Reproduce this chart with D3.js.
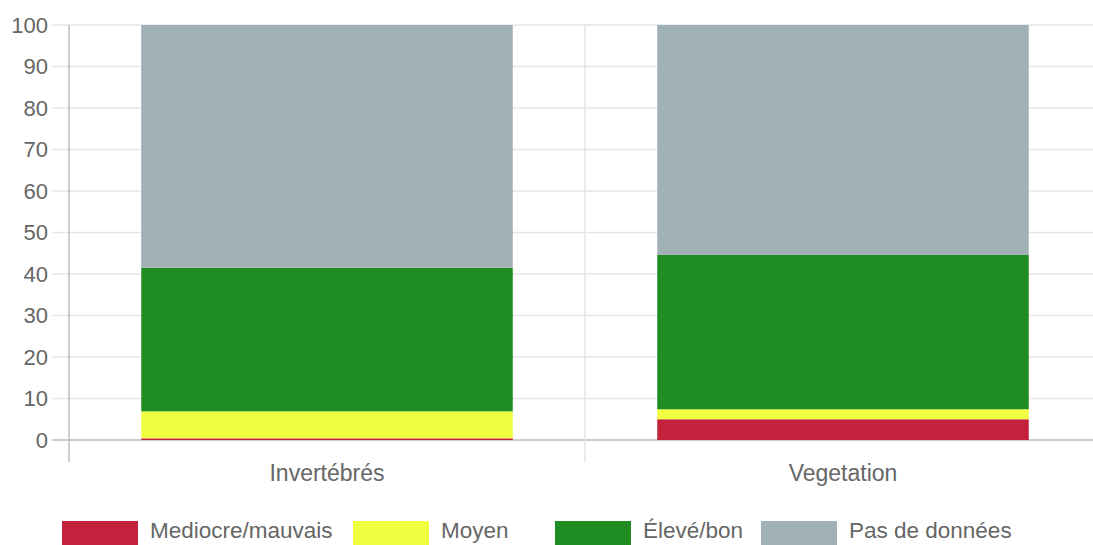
<!DOCTYPE html>
<html><head><meta charset="utf-8">
<script src="https://cdn.jsdelivr.net/npm/d3@7"></script>
<style>body{margin:0;background:#fff}svg{display:block}text{font-family:"Liberation Sans",Arial,sans-serif;fill:#666}</style>
</head><body><svg id="c" width="1093" height="545"></svg>
<script>
const categories = ["Invertébrés", "Vegetation"];
const seriesNames = ["Mediocre/mauvais", "Moyen", "Élevé/bon", "Pas de données"];
const seriesColors = ["#c4213c", "#f0ff40", "#208d23", "#a1b1b8"];
const mediocre = [0.4, 5.0];
const moyen = [6.5, 2.4];
const eleve = [34.6, 37.2];
const pasDeDonnees = [58.5, 55.4];
const yTicks = [0, 10, 20, 30, 40, 50, 60, 70, 80, 90, 100];

(function () {
const svg = d3.select("#c");
const pL = 69, pR = 1101, pT = 25, pB = 440;
const x = d3.scaleBand().domain(categories).range([pL, pR]).paddingInner(0).paddingOuter(0);
const y = d3.scaleLinear().domain([0, 100]).range([pB, pT]);

// horizontal grid
svg.append("g").selectAll("line").data(yTicks).join("line")
  .attr("x1", 52).attr("x2", pR).attr("y1", d => y(d)).attr("y2", d => y(d))
  .attr("stroke", d => d === 0 ? "#bdbdbd" : "#e6e6e6").attr("stroke-width", 1.5);
// vertical grid (category boundaries)
const bounds = categories.map(c => x(c)).concat([pR]);
svg.append("g").selectAll("line").data(bounds).join("line")
  .attr("x1", d => d).attr("x2", d => d).attr("y1", pT).attr("y2", 462)
  .attr("stroke", (d, i) => i === 0 ? "#bdbdbd" : "#e6e6e6").attr("stroke-width", 1.5);

// stacked bars
const rows = categories.map((c, i) => ({cat: c, s0: mediocre[i], s1: moyen[i], s2: eleve[i], s3: pasDeDonnees[i]}));
const stack = d3.stack().keys(["s0", "s1", "s2", "s3"])(rows);
const bw = x.bandwidth() * 0.72;
svg.append("g").selectAll("g").data(stack).join("g")
  .attr("fill", (d, i) => seriesColors[i])
  .selectAll("rect").data(d => d).join("rect")
  .attr("x", d => x(d.data.cat) + (x.bandwidth() - bw) / 2)
  .attr("width", bw)
  .attr("y", d => y(d[1]))
  .attr("height", d => y(d[0]) - y(d[1]));

// y labels
svg.append("g").selectAll("text").data(yTicks).join("text")
  .attr("x", 48).attr("y", d => y(d)).attr("dy", "0.35em").attr("text-anchor", "end")
  .attr("font-size", 22).text(d => d);
// x labels
svg.append("g").selectAll("text").data(categories).join("text")
  .attr("x", d => x(d) + x.bandwidth() / 2).attr("y", 481).attr("text-anchor", "middle")
  .attr("font-size", 23).text(d => d);

// legend
const legendX = [62, 353, 555, 761];
const lg = svg.append("g").selectAll("g").data(seriesNames).join("g")
  .attr("transform", (d, i) => `translate(${legendX[i]},521)`);
lg.append("rect").attr("width", 76).attr("height", 26).attr("fill", (d, i) => seriesColors[i]);
lg.append("text").attr("x", 88).attr("y", 17).attr("font-size", 22.5).text(d => d);
})();
</script></body></html>
